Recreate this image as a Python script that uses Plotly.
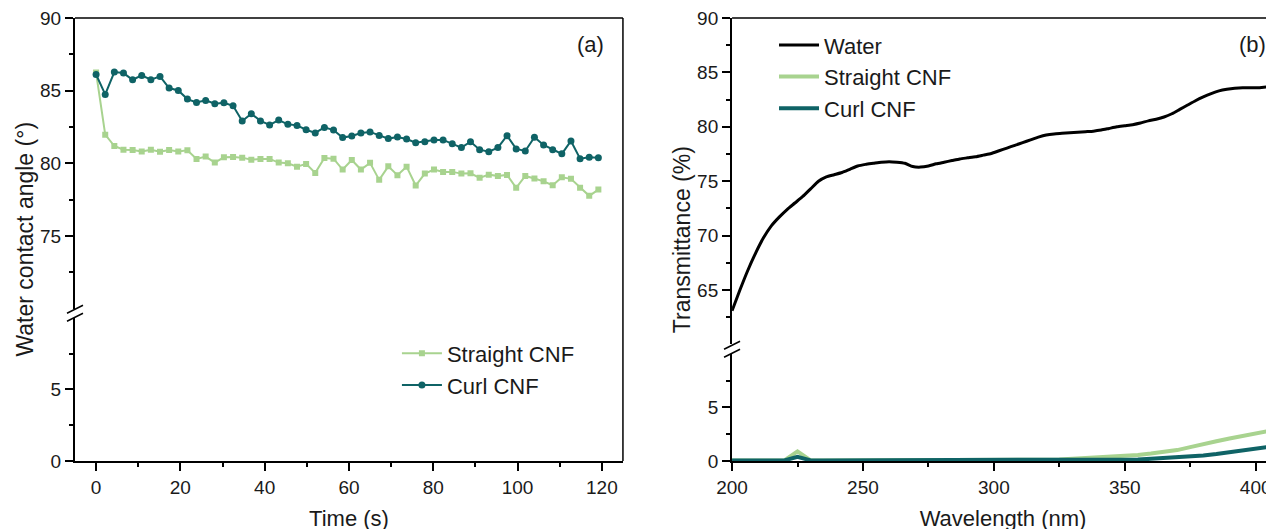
import plotly.graph_objects as go

# ---------------- Panel (a): water contact angle ----------------
time_s = [0, 2.17, 4.33, 6.5, 8.67, 10.83, 13, 15.17, 17.33, 19.5, 21.67, 23.83, 26, 28.17,
          30.33, 32.5, 34.67, 36.83, 39, 41.17, 43.33, 45.5, 47.67, 49.83, 52, 54.17, 56.33,
          58.5, 60.67, 62.83, 65, 67.17, 69.33, 71.5, 73.67, 75.83, 78, 80.17, 82.33, 84.5,
          86.67, 88.83, 91, 93.17, 95.33, 97.5, 99.67, 101.83, 104, 106.17, 108.33, 110.5,
          112.67, 114.83, 117, 119.17]
straight_angle = [86.25, 81.97, 81.19, 80.94, 80.92, 80.82, 80.94, 80.80, 80.92, 80.82, 80.89,
                  80.30, 80.46, 80.05, 80.41, 80.44, 80.39, 80.25, 80.30, 80.30, 80.05, 80.00,
                  79.77, 79.96, 79.34, 80.37, 80.32, 79.57, 80.23, 79.57, 80.03, 78.86, 79.79,
                  79.18, 79.77, 78.47, 79.29, 79.57, 79.41, 79.41, 79.29, 79.31, 79.00, 79.22,
                  79.13, 79.20, 78.31, 79.13, 78.95, 78.76, 78.49, 79.04, 78.93, 78.31, 77.76,
                  78.19]
curl_angle = [86.11, 84.74, 86.28, 86.21, 85.75, 86.05, 85.75, 85.98, 85.18, 85.01, 84.42,
              84.19, 84.33, 84.10, 84.17, 83.96, 82.91, 83.41, 82.92, 82.64, 82.98, 82.68,
              82.61, 82.31, 82.09, 82.47, 82.29, 81.77, 81.88, 82.09, 82.16, 81.92, 81.70,
              81.81, 81.67, 81.42, 81.49, 81.61, 81.61, 81.35, 81.08, 81.49, 80.94, 80.80,
              81.08, 81.90, 80.99, 80.85, 81.79, 81.26, 80.94, 80.65, 81.54, 80.32, 80.41,
              80.39]

# ---------------- Panel (b): transmittance ----------------
wl_water = [200, 203, 206, 209, 212, 215, 218, 221, 224, 227, 230, 233, 236, 239, 242, 245,
            248, 251, 254, 257, 260, 263, 266, 269, 272, 275, 278, 281, 284, 287, 290, 293,
            296, 299, 302, 305, 308, 311, 314, 317, 320, 323, 326, 329, 332, 335, 338, 341,
            344, 347, 350, 353, 356, 359, 362, 365, 368, 371, 374, 377, 380, 383, 386, 389,
            392, 395, 398, 401, 404, 407, 410]
water_T = [63.1, 65.0, 66.8, 68.4, 69.8, 70.9, 71.7, 72.4, 73.0, 73.6, 74.3, 75.0, 75.4, 75.6,
           75.8, 76.1, 76.4, 76.55, 76.65, 76.75, 76.8, 76.75, 76.65, 76.35, 76.3, 76.4, 76.6,
           76.75, 76.9, 77.05, 77.15, 77.25, 77.4, 77.55, 77.8, 78.05, 78.3, 78.55, 78.8, 79.05,
           79.25, 79.35, 79.4, 79.45, 79.5, 79.55, 79.6, 79.7, 79.85, 80.0, 80.1, 80.2, 80.35,
           80.55, 80.7, 80.9, 81.2, 81.6, 82.0, 82.4, 82.75, 83.05, 83.3, 83.45, 83.55, 83.6,
           83.6, 83.6, 83.65, 83.6, 83.55]
wl_cnf = [200, 205, 210, 215, 220, 225, 230, 235, 240, 245, 250, 255, 260, 265, 270, 275, 280,
          285, 290, 295, 300, 305, 310, 315, 320, 325, 330, 335, 340, 345, 350, 355, 360, 365,
          370, 375, 380, 385, 390, 395, 400, 405, 410]
straight_T = [0.05, 0.05, 0.05, 0.05, 0.05, 0.9, 0.05, 0.05, 0.05, 0.05, 0.05, 0.06, 0.06, 0.05,
              0.05, 0.05, 0.05, 0.05, 0.06, 0.06, 0.07, 0.08, 0.08, 0.08, 0.1, 0.14, 0.2, 0.26,
              0.33, 0.4, 0.47, 0.57, 0.7, 0.85, 1.02, 1.3, 1.6, 1.85, 2.1, 2.35, 2.55, 2.8, 3.05]
curl_T = [0.05, 0.05, 0.05, 0.05, 0.05, 0.4, 0.05, 0.05, 0.05, 0.05, 0.05, 0.05, 0.05, 0.05,
          0.05, 0.05, 0.05, 0.05, 0.05, 0.05, 0.05, 0.05, 0.05, 0.05, 0.05, 0.05, 0.05, 0.05,
          0.06, 0.08, 0.1, 0.14, 0.2, 0.26, 0.33, 0.42, 0.52, 0.65, 0.8, 0.95, 1.1, 1.3, 1.5]

LIGHT = "#a8d38f"
TEAL = "#0f6366"
FONT = "Liberation Sans, Arial, sans-serif"
INK = "#1a1a1a"

fig = go.Figure()

# empty trace so the lower segment of panel (a) exists as a subplot
fig.add_trace(go.Scatter(x=[None], y=[None], xaxis="x", yaxis="y2", showlegend=False,
                         hoverinfo="skip", mode="lines"))

fig.add_trace(go.Scatter(x=time_s, y=straight_angle, name="Straight CNF", mode="lines+markers",
                         line=dict(color=LIGHT, width=2),
                         marker=dict(symbol="square", size=6, color=LIGHT),
                         xaxis="x", yaxis="y", legend="legend"))
fig.add_trace(go.Scatter(x=time_s, y=curl_angle, name="Curl CNF", mode="lines+markers",
                         line=dict(color=TEAL, width=2),
                         marker=dict(symbol="circle", size=7, color=TEAL),
                         xaxis="x", yaxis="y", legend="legend"))

fig.add_trace(go.Scatter(x=wl_water, y=water_T, name="Water", mode="lines",
                         line=dict(color="black", width=3, shape="spline", smoothing=0.6),
                         xaxis="x2", yaxis="y3", legend="legend2"))
fig.add_trace(go.Scatter(x=wl_cnf, y=straight_T, name="Straight CNF", mode="lines",
                         line=dict(color=LIGHT, width=4),
                         xaxis="x2", yaxis="y4", legend="legend2"))
fig.add_trace(go.Scatter(x=wl_cnf, y=curl_T, name="Curl CNF", mode="lines",
                         line=dict(color=TEAL, width=4),
                         xaxis="x2", yaxis="y4", legend="legend2"))

axis_common = dict(showgrid=False, zeroline=False, showline=True, linecolor="black",
                   linewidth=2, ticks="outside", ticklen=8, tickwidth=1.5, tickcolor="black",
                   ticklabeloverflow="allow", automargin=False,
                   tickfont=dict(size=19, color=INK, family=FONT))
minor_common = dict(ticks="outside", ticklen=4, tickwidth=1.5, tickcolor="black")

A_DOM = [0.0, 0.457]
B_DOM = [0.548, 1.0]

fig.update_layout(
    width=1274, height=529,
    margin=dict(l=67, r=8, t=10, b=76, autoexpand=False),
    paper_bgcolor="white", plot_bgcolor="white",
    font=dict(family=FONT, color=INK),
    showlegend=True,
    xaxis=dict(domain=A_DOM, anchor="y2", range=[-5, 125], tickvals=[0, 20, 40, 60, 80, 100, 120],
               minor=dict(tickvals=[10, 30, 50, 70, 90, 110], **minor_common),
               title=dict(text="Time (s)", font=dict(size=22, color=INK, family=FONT), standoff=14),
               **axis_common),
    yaxis=dict(domain=[0.344, 1.0], anchor="x", range=[70, 90], tickvals=[75, 80, 85, 90],
               minor=dict(tickvals=[72.5, 77.5, 82.5, 87.5], **minor_common), **axis_common),
    yaxis2=dict(domain=[0.0, 0.323], anchor="x", range=[0, 10], tickvals=[0, 5],
                minor=dict(tickvals=[2.5, 7.5], **minor_common), **axis_common),
    xaxis2=dict(domain=B_DOM, anchor="y4", range=[200, 407], tickvals=[200, 250, 300, 350, 400],
                minor=dict(tickvals=[225, 275, 325, 375], **minor_common),
                title=dict(text="Wavelength (nm)", font=dict(size=22, color=INK, family=FONT), standoff=14),
                **axis_common),
    yaxis3=dict(domain=[0.263, 1.0], anchor="x2", range=[60, 90], tickvals=[65, 70, 75, 80, 85, 90],
                minor=dict(tickvals=[62.5, 67.5, 72.5, 77.5, 82.5, 87.5], **minor_common),
                **axis_common),
    yaxis4=dict(domain=[0.0, 0.2416], anchor="x2", range=[0, 10], tickvals=[0, 5],
                minor=dict(tickvals=[2.5, 7.5], **minor_common), **axis_common),
    legend=dict(x=0.2685, y=0.290, xanchor="left", yanchor="top", bgcolor="rgba(0,0,0,0)",
                font=dict(size=22, color=INK, family=FONT), tracegroupgap=0, itemwidth=40),
    legend2=dict(x=0.583, y=0.986, xanchor="left", yanchor="top", bgcolor="rgba(0,0,0,0)",
                 font=dict(size=22, color=INK, family=FONT), tracegroupgap=0, itemwidth=40),
)

# y-axis titles spanning both segments
fig.add_annotation(text="Water contact angle (°)", xref="paper", yref="paper",
                   x=-0.0425, y=0.5, xanchor="center", yanchor="middle", textangle=-90,
                   showarrow=False, font=dict(size=23, color=INK, family=FONT))
fig.add_annotation(text="Transmittance (%)", xref="paper", yref="paper",
                   x=0.506, y=0.5, xanchor="center", yanchor="middle", textangle=-90,
                   showarrow=False, font=dict(size=23, color=INK, family=FONT))
# panel labels
fig.add_annotation(text="(a)", xref="x domain", yref="paper", x=0.94, y=0.94,
                   xanchor="center", yanchor="middle", showarrow=False,
                   font=dict(size=22, color=INK, family=FONT))
fig.add_annotation(text="(b)", xref="x2 domain", yref="paper", x=0.96, y=0.94,
                   xanchor="center", yanchor="middle", showarrow=False,
                   font=dict(size=22, color=INK, family=FONT))

frame = dict(color="black", width=1.5)
# frame of panel (a): top and right
fig.add_shape(type="line", xref="x domain", yref="paper", x0=0, x1=1, y0=1, y1=1, line=frame)
fig.add_shape(type="line", xref="x domain", yref="paper", x0=1, x1=1, y0=0, y1=1, line=frame)
# frame of panel (b): top
fig.add_shape(type="line", xref="x2 domain", yref="paper", x0=0, x1=1, y0=1, y1=1, line=frame)

# axis break marks
for xr, yb in (("x domain", 0.3335), ("x2 domain", 0.2523)):
    for dy in (4, -4):
        fig.add_shape(type="line", xref=xr, yref="paper", xsizemode="pixel", ysizemode="pixel",
                      xanchor=0, yanchor=yb, x0=-8, x1=8, y0=dy - 4, y1=dy + 4,
                      line=dict(color="black", width=1.5))

fig.write_html("out.html")
